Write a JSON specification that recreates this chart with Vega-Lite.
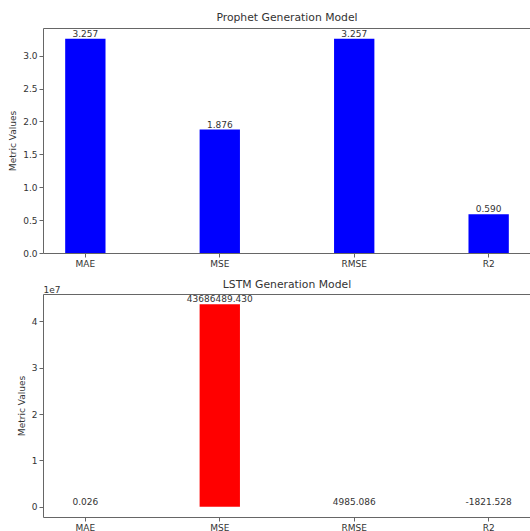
{
  "$schema": "https://vega.github.io/schema/vega-lite/v6.json",
  "background": "white",
  "padding": {"left": 8, "top": 11, "right": 0, "bottom": 0},
  "spacing": 41,
  "bounds": "flush",
  "config": {
    "font": "DejaVu Sans",
    "view": {"stroke": "#666", "strokeWidth": 1},
    "axis": {
      "labelFont": "DejaVu Sans", "labelFontSize": 9, "labelColor": "#333",
      "tickColor": "#666", "tickSize": 4, "labelPadding": 2,
      "domain": false, "grid": false,
      "titleFont": "DejaVu Sans", "titleFontSize": 9, "titleFontWeight": "normal", "titleColor": "#333", "titlePadding": 5
    },
    "title": {"font": "DejaVu Sans", "fontSize": 10.8, "fontWeight": "normal", "color": "#333", "offset": 5}
  },
  "datasets": {
    "prophet": [
      {"metric": "MAE", "value": 3.257, "label": "3.257"},
      {"metric": "MSE", "value": 1.876, "label": "1.876"},
      {"metric": "RMSE", "value": 3.257, "label": "3.257"},
      {"metric": "R2", "value": 0.590, "label": "0.590"}
    ],
    "lstm": [
      {"metric": "MAE", "value": 0.026, "label": "0.026"},
      {"metric": "MSE", "value": 43686489.430, "label": "43686489.430"},
      {"metric": "RMSE", "value": 4985.086, "label": "4985.086"},
      {"metric": "R2", "value": -1821.528, "label": "-1821.528"}
    ]
  },
  "vconcat": [
    {
      "title": "Prophet Generation Model",
      "width": 488,
      "height": 225,
      "data": {"name": "prophet"},
      "encoding": {
        "x": {
          "field": "metric", "type": "nominal", "sort": ["MAE", "MSE", "RMSE", "R2"],
          "scale": {"paddingInner": 0.7, "paddingOuter": 0.165},
          "axis": {"title": null, "labelAngle": 0}
        },
        "y": {
          "field": "value", "type": "quantitative",
          "scale": {"domain": [0, 3.42], "nice": false, "zero": false},
          "axis": {"title": "Metric Values", "values": [0, 0.5, 1, 1.5, 2, 2.5, 3], "format": ".1f"}
        }
      },
      "layer": [
        {"mark": {"type": "bar", "color": "#0000ff"}},
        {"mark": {"type": "text", "baseline": "bottom", "fontSize": 9, "color": "#333", "dy": 0}, "encoding": {"text": {"field": "label"}}}
      ]
    },
    {
      "title": {"text": "LSTM Generation Model", "offset": -5},
      "width": 488,
      "height": 223,
      "data": {"name": "lstm"},
      "encoding": {
        "y": {
          "field": "value", "type": "quantitative",
          "scale": {"domain": [-2186000, 45870000], "nice": false, "zero": false},
          "axis": {"title": "Metric Values", "values": [0, 10000000, 20000000, 30000000, 40000000], "labelExpr": "format(datum.value / 10000000, 'd')"}
        }
      },
      "layer": [
        {
          "mark": {"type": "bar", "color": "#ff0000"},
          "encoding": {
            "x": {
              "field": "metric", "type": "nominal", "sort": ["MAE", "MSE", "RMSE", "R2"],
              "scale": {"paddingInner": 0.7, "paddingOuter": 0.165},
              "axis": {"title": null, "labelAngle": 0, "orient": "bottom"}
            }
          }
        },
        {
          "mark": {"type": "text", "baseline": "bottom", "fontSize": 9, "color": "#333"},
          "encoding": {
            "x": {
              "field": "metric", "type": "nominal", "sort": ["MAE", "MSE", "RMSE", "R2"],
              "axis": {"orient": "top", "title": "1e7", "titleAnchor": "start", "titleAlign": "left", "titleBaseline": "bottom", "titlePadding": 0, "labels": false, "ticks": false, "domain": false}
            },
            "text": {"field": "label"}
          }
        }
      ],
      "resolve": {"axis": {"x": "independent"}}
    }
  ]
}
